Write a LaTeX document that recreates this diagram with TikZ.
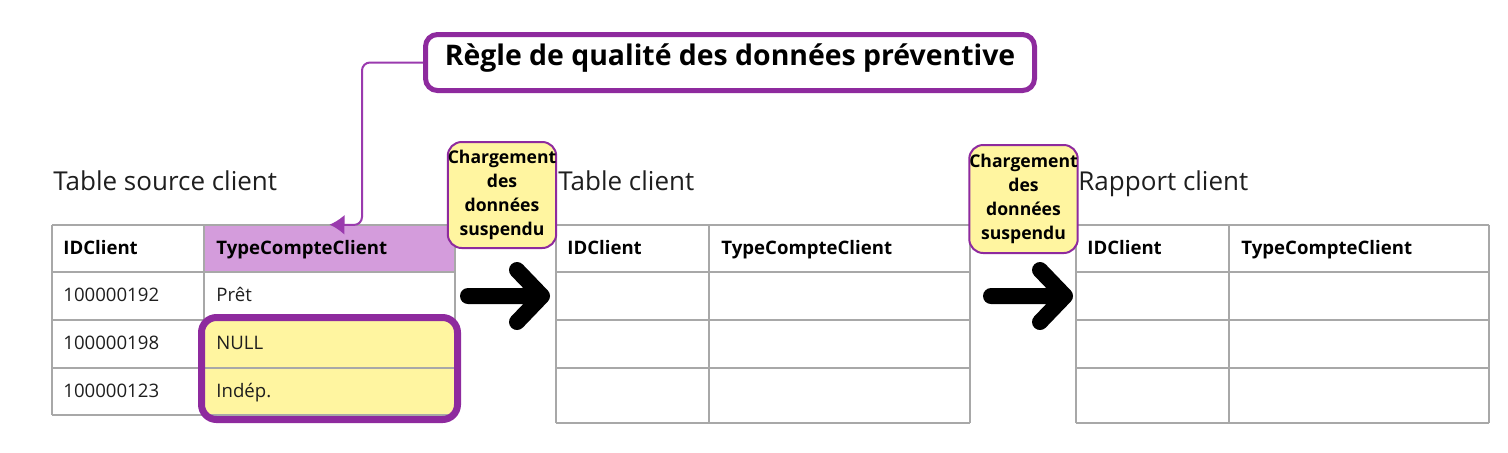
\documentclass[tikz,border=0pt]{standalone}
\usepackage{fontspec}
\setmainfont{Open Sans}
\usepackage{xcolor}
\usetikzlibrary{positioning}
\usetikzlibrary{arrows.meta}

\definecolor{rulepurple}{HTML}{8E2A9E}
\definecolor{linkpurple}{HTML}{9A3AAE}
\definecolor{hdrpurple}{HTML}{D49CDC}
\definecolor{noteyellow}{HTML}{FFF5A0}
\definecolor{gridgray}{HTML}{A8A8A8}
\definecolor{inkgray}{HTML}{1E1E1E}

\tikzset{
  tabletitle/.style={anchor=base west,inner sep=0pt,text=inkgray,font=\fontsize{13}{15}\selectfont},
  head/.style={anchor=base west,inner sep=0pt,text=black,font=\bfseries\fontsize{9.3}{11}\selectfont},
  entry/.style={anchor=base west,inner sep=0pt,text=inkgray,font=\fontsize{9.3}{11}\selectfont},
  tablegrid/.style={draw=gridgray,line width=1pt},
  note/.style={draw=rulepurple,line width=1pt,fill=noteyellow,rounded corners=7pt,
    align=center,inner sep=0pt,font=\bfseries\fontsize{8.8}{12}\selectfont},
  bigarrow/.style={line width=8pt,line cap=round,line join=round},
  link/.style={draw=linkpurple,line width=1pt,rounded corners=4pt,-{Latex[length=7.5pt,width=10pt]}}
}

\begin{document}
\begin{tikzpicture}[x=0.5pt,y=-0.5pt]
\useasboundingbox (0,0) rectangle (1508,452);

% rule on top
\node (rule) [draw=rulepurple,line width=2.5pt,rounded corners=6pt,
  minimum width=304.5pt,minimum height=28pt,text height=10pt,text depth=7pt,
  font=\bfseries\fontsize{14.2}{16}\selectfont] at (730,62.5)
  {Règle de qualité des données préventive};

% titles
\node (srctitle) [tabletitle] at (53,190) {Table source client};
\node (tbltitle) [tabletitle] at (558,190) {Table client};
\node (rpttitle) [tabletitle] at (1078,190) {Rapport client};

% cell fills of the source table
\node (typehdr) [fill=hdrpurple,minimum width=125.5pt,minimum height=23.5pt,inner sep=0pt] at (329.5,248.5) {};
\fill[noteyellow] (204,320) rectangle (455,415);

% the three tables
\foreach \n/\xa/\xb/\xc/\yb in {src/52/204/455/415, tbl/556/709/970/423, rpt/1076/1229/1489/423} {
  \foreach \y in {225,272,320,368}
    \draw[tablegrid] (\xa,\y) -- (\xc,\y);
  \draw[tablegrid] (\xa,\yb) -- (\xc,\yb);
  \foreach \x in {\xa,\xb,\xc}
    \draw[tablegrid] (\x,225) -- (\x,\yb);
  \node (\n-idhead) [head] at (\xa+11,254) {IDClient};
  \node (\n-typehead) [head] at (\xb+12,254) {TypeCompteClient};
}

% source rows
\node (id1) [entry] at (63,301) {100000192};
\node (type1) [entry] at (216,301) {Prêt};
\node (id2) [entry] at (63,349) {100000198};
\node (type2) [entry] at (216,349) {NULL};
\node (id3) [entry] at (63,397) {100000123};
\node (type3) [entry] at (216,397) {Indép.};

% bad values
\draw[rulepurple,line width=3.5pt,rounded corners=7.5pt] (201.5,317.5) rectangle (457.5,419.5);

% suspended loads
\node (load1) [note,minimum width=51pt,minimum height=53pt] at (502,195)
  {Chargement\\des\\données\\suspendu};
\node (load2) [note,minimum width=51.5pt,minimum height=54pt] at (1023.5,199)
  {Chargement\\des\\données\\suspendu};

% flow arrows
\coordinate (a1s) at (468,296);
\coordinate (a1e) at (542,296);
\coordinate (a2s) at (991,296);
\coordinate (a2e) at (1065,296);
\draw[bigarrow] (a1s) -- (a1e) (a1e) ++(-25,-26) -- (a1e) -- ++(-25,26);
\draw[bigarrow] (a2s) -- (a2e) (a2e) ++(-25,-26) -- (a2e) -- ++(-25,26);

% rule to column
\draw[link] (rule.west) -| (362,225) -- (typehdr.north);
\end{tikzpicture}
\end{document}
